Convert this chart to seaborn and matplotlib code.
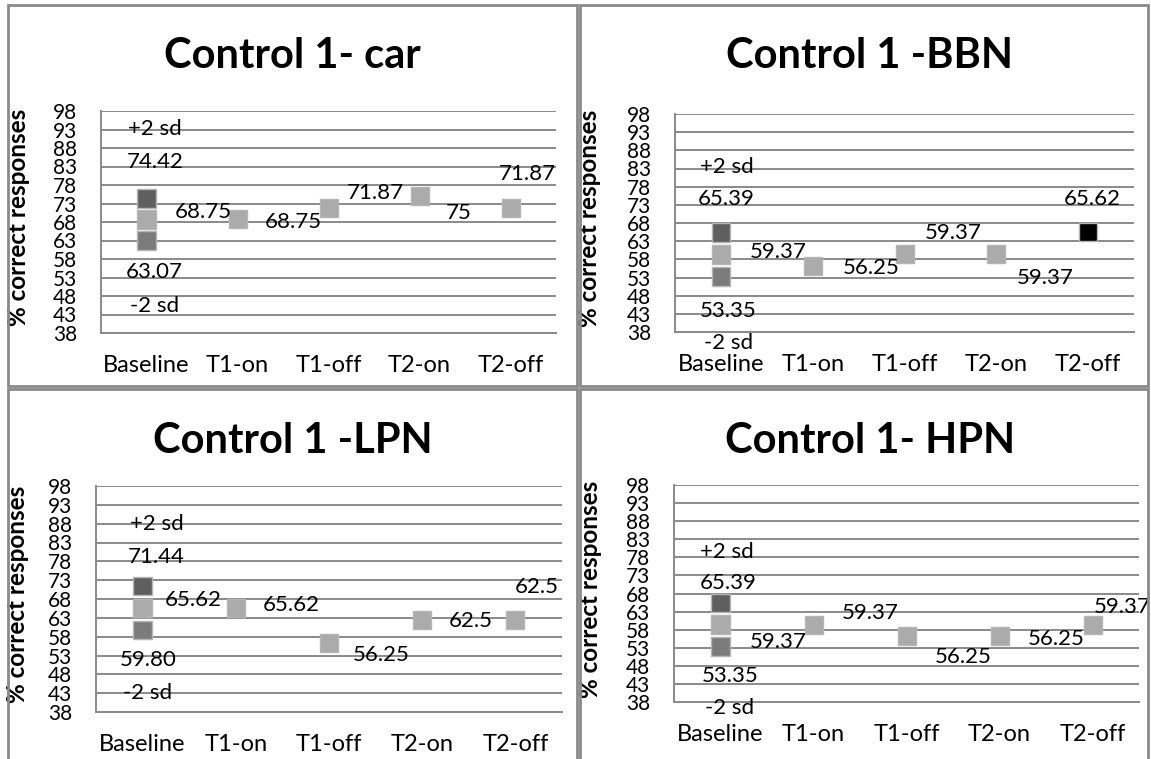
import pandas as pd
import matplotlib
matplotlib.use("Agg")
import matplotlib.pyplot as plt
import seaborn as sns
from matplotlib.patches import Rectangle

# phases on the x axis
phases = ["Baseline", "T1-on", "T1-off", "T2-on", "T2-off"]
titles = ["Control 1- car", "Control 1 -BBN", "Control 1 -LPN", "Control 1- HPN"]

# baseline +2 sd / mean / -2 sd, then T1-on .. T2-off scores
car_sd = [74.42, 68.75, 63.07]
car_scores = [68.75, 71.87, 75, 71.87]
bbn_sd = [65.39, 59.37, 53.35]
bbn_scores = [56.25, 59.37, 59.37, 65.62]
lpn_sd = [71.44, 65.62, 59.80]
lpn_scores = [65.62, 56.25, 62.5, 62.5]
hpn_sd = [65.39, 59.37, 53.35]
hpn_scores = [59.37, 56.25, 56.25, 59.37]

# marker colour group of each follow-up point
car_kinds = ["point", "point", "point", "point"]
bbn_kinds = ["point", "point", "point", "black"]
lpn_kinds = ["point", "point", "point", "point"]
hpn_kinds = ["point", "point", "point", "point"]

# data labels (text, x in category units, y in axis units)
car_labels = ["+2 sd", "74.42", "68.75", "63.07", "-2 sd", "68.75", "71.87", "75", "71.87"]
car_lx = [0.09, 0.10, 0.62, 0.09, 0.09, 1.61, 2.51, 3.43, 4.19]
car_ly = [93.1, 84.2, 70.7, 54.5, 45.3, 68.0, 75.8, 70.4, 81.0]
bbn_labels = ["+2 sd", "65.39", "59.37", "53.35", "-2 sd", "56.25", "59.37", "59.37", "65.62"]
bbn_lx = [0.06, 0.06, 0.63, 0.08, 0.08, 1.64, 2.53, 3.53, 4.05]
bbn_ly = [83.4, 74.6, 60.0, 43.8, 35.0, 55.6, 65.2, 52.9, 74.6]
lpn_labels = ["+2 sd", "71.44", "65.62", "59.80", "-2 sd", "65.62", "56.25", "62.5", "62.5"]
lpn_lx = [0.15, 0.15, 0.54, 0.06, 0.05, 1.60, 2.56, 3.52, 4.23]
lpn_ly = [87.9, 79.2, 67.7, 51.8, 43.0, 66.4, 53.1, 62.2, 71.2]
hpn_labels = ["+2 sd", "65.39", "59.37", "53.35", "-2 sd", "59.37", "56.25", "56.25", "59.37"]
hpn_lx = [0.07, 0.08, 0.62, 0.10, 0.10, 1.61, 2.61, 3.61, 4.32]
hpn_ly = [79.6, 71.0, 54.7, 45.2, 36.3, 62.6, 50.5, 55.4, 64.3]

palette = {"hi": "#5f5f5f", "mean": "#ababab", "lo": "#7b7b7b",
           "point": "#ababab", "black": "#000000"}

sns.set_theme(style="white")
plt.rcParams["font.family"] = ["Lato", "DejaVu Sans"]

W, H = 1151, 759
fig = plt.figure(figsize=(W / 100, H / 100), dpi=100)

# pixel boxes: frame, plot area, title centre, y-label centre x
frames = [(8, 5, 577, 386), (580, 5, 1148, 386), (8, 389, 577, 800), (580, 389, 1148, 800)]
areas = [(101, 111, 556, 333), (675, 114, 1134, 332), (96, 486, 562, 712), (674, 485, 1139, 702)]
title_pos = [(292, 56), (870, 56), (293, 441), (870, 441)]
ylab_x = [30, 601, 29, 602]

sd_sets = [car_sd, bbn_sd, lpn_sd, hpn_sd]
score_sets = [car_scores, bbn_scores, lpn_scores, hpn_scores]
kind_sets = [car_kinds, bbn_kinds, lpn_kinds, hpn_kinds]
label_sets = [(car_labels, car_lx, car_ly), (bbn_labels, bbn_lx, bbn_ly),
              (lpn_labels, lpn_lx, lpn_ly), (hpn_labels, hpn_lx, hpn_ly)]

grey = "#8a8a8a"

for i in range(4):
    fx0, fy0, fx1, fy1 = frames[i]
    fig.add_artist(Rectangle((fx0 / W, 1 - fy1 / H), (fx1 - fx0) / W, (fy1 - fy0) / H,
                             transform=fig.transFigure, fill=False, ec=grey, lw=2))

    x0, y0, x1, y1 = areas[i]
    ax = fig.add_axes([x0 / W, 1 - y1 / H, (x1 - x0) / W, (y1 - y0) / H])

    rows = []
    for k, v in zip(["hi", "mean", "lo"], sd_sets[i]):
        rows.append(("Baseline", v, k))
    for ph, v, k in zip(phases[1:], score_sets[i], kind_sets[i]):
        rows.append((ph, v, k))
    df = pd.DataFrame(rows, columns=["phase", "score", "kind"])

    sns.stripplot(data=df, x="phase", y="score", hue="kind", order=phases,
                  palette=palette, jitter=False, dodge=False, marker="s", size=13.5,
                  linewidth=1, edgecolor="#b5b5b5", legend=False, ax=ax, zorder=3)

    ax.set_xlim(-0.5, 4.5)
    ax.set_ylim(38, 98)
    ax.set_yticks(range(38, 99, 5))
    ax.yaxis.grid(True, color=grey, lw=1.4)
    ax.xaxis.grid(False)
    ax.set_axisbelow(True)
    for s in ["top", "right"]:
        ax.spines[s].set_visible(False)
    for s in ["left", "bottom"]:
        ax.spines[s].set_color(grey)
        ax.spines[s].set_linewidth(1.4)
    ax.tick_params(axis="y", length=0, pad=17, labelsize=15, colors="black")
    ax.tick_params(axis="x", length=0, pad=16, labelsize=17, colors="black")
    ax.set_xlabel("")
    ax.set_ylabel("% correct responses", fontsize=17.5, fontweight="bold", color="black")
    ax.yaxis.set_label_coords((ylab_x[i] - x0) / (x1 - x0), 0.52)

    labs, lx, ly = label_sets[i]
    for s, xx, yy in zip(labs, lx, ly):
        ax.text(xx, yy, s, ha="center", va="center", fontsize=16, color="black",
                clip_on=False)

    tx, ty = title_pos[i]
    fig.text(tx / W, 1 - ty / H, titles[i], ha="center", va="center",
             fontsize=30, fontweight="bold", color="black")

fig.savefig("out.png", dpi=100)
